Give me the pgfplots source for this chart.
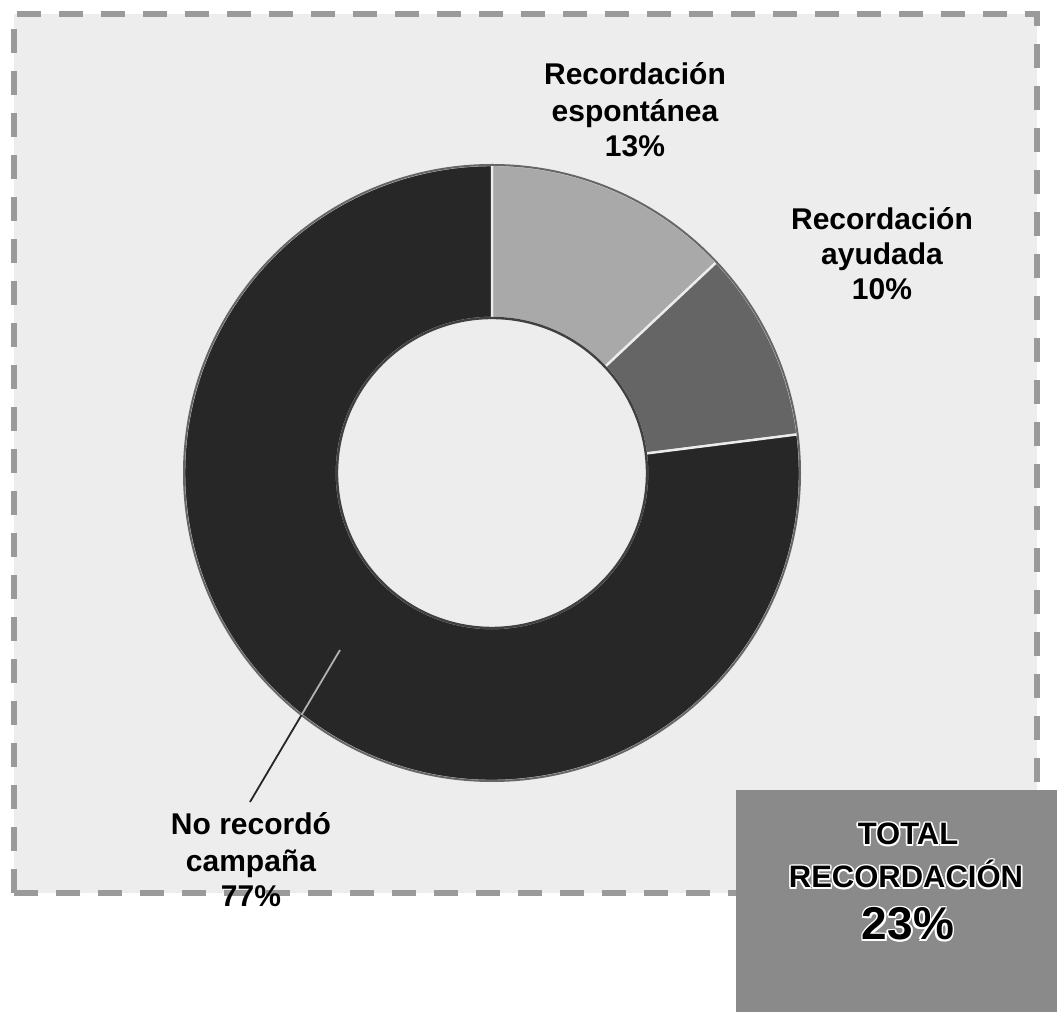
\documentclass[border=0pt]{standalone}
\usepackage{pgfplots}
\pgfplotsset{compat=1.18}
\usepackage{pgfplotstable}
\usepackage{fontspec}
\setmainfont{Liberation Sans}
\definecolor{bgc}{HTML}{EDEDED}
\definecolor{sliceA}{HTML}{A9A9A9}
\definecolor{sliceB}{HTML}{656565}
\definecolor{sliceC}{HTML}{272727}
\definecolor{boxc}{HTML}{8A8A8A}
\definecolor{dashc}{HTML}{9A9A9A}

\pgfplotstableread{
label value
Espontanea 13
Ayudada 10
NoRecordo 77
}\donutdata

\newcommand\halo[4]{%
  \node[white,font=#3] at ([shift={(0.8pt,0pt)}]axis cs:#1,#2) {#4};
  \node[white,font=#3] at ([shift={(-0.8pt,0pt)}]axis cs:#1,#2) {#4};
  \node[white,font=#3] at ([shift={(0pt,0.8pt)}]axis cs:#1,#2) {#4};
  \node[white,font=#3] at ([shift={(0pt,-0.8pt)}]axis cs:#1,#2) {#4};
  \node[white,font=#3] at ([shift={(0.6pt,0.6pt)}]axis cs:#1,#2) {#4};
  \node[white,font=#3] at ([shift={(-0.6pt,0.6pt)}]axis cs:#1,#2) {#4};
  \node[white,font=#3] at ([shift={(0.6pt,-0.6pt)}]axis cs:#1,#2) {#4};
  \node[white,font=#3] at ([shift={(-0.6pt,-0.6pt)}]axis cs:#1,#2) {#4};
  \node[black,font=#3] at (axis cs:#1,#2) {#4};
}

\begin{document}
\begin{tikzpicture}
\pgfplotstablegetelem{0}{value}\of\donutdata \pgfmathsetmacro\va{\pgfplotsretval}
\pgfplotstablegetelem{1}{value}\of\donutdata \pgfmathsetmacro\vb{\pgfplotsretval}
\pgfplotstablegetelem{2}{value}\of\donutdata \pgfmathsetmacro\vc{\pgfplotsretval}
\pgfmathsetmacro\aA{90}
\pgfmathsetmacro\aB{\aA-3.6*\va}
\pgfmathsetmacro\aC{\aB-3.6*\vb}
\pgfmathsetmacro\aD{\aC-3.6*\vc}
\def\Ro{154pt}
\def\Ri{77.5pt}
\begin{axis}[
  x=0.5pt, y=0.5pt,
  xmin=0, xmax=1057, ymin=0, ymax=1012,
  hide axis, clip=false,
  scale only axis,
]
% background
\fill[white] (axis cs:0,0) rectangle (axis cs:1057,1012);
\fill[bgc] (axis cs:14,119) rectangle (axis cs:1037,998);
\draw[dashc, line width=3pt, dash pattern=on 12pt off 9pt] (axis cs:14,119) rectangle (axis cs:1037,998);
% slices
\filldraw[fill=sliceA, draw=white!85!gray, line width=1.2pt]
  ([shift={(\aA:\Ro)}]axis cs:492,539) arc[start angle=\aA, end angle=\aB, radius=\Ro]
  -- ([shift={(\aB:\Ri)}]axis cs:492,539) arc[start angle=\aB, end angle=\aA, radius=\Ri] -- cycle;
\filldraw[fill=sliceB, draw=white!85!gray, line width=1.2pt]
  ([shift={(\aB:\Ro)}]axis cs:492,539) arc[start angle=\aB, end angle=\aC, radius=\Ro]
  -- ([shift={(\aC:\Ri)}]axis cs:492,539) arc[start angle=\aC, end angle=\aB, radius=\Ri] -- cycle;
\filldraw[fill=sliceC, draw=white!85!gray, line width=1.2pt]
  ([shift={(\aC:\Ro)}]axis cs:492,539) arc[start angle=\aC, end angle=\aD, radius=\Ro]
  -- ([shift={(\aD:\Ri)}]axis cs:492,539) arc[start angle=\aD, end angle=\aC, radius=\Ri] -- cycle;
\draw[black!75, line width=1.2pt] (axis cs:492,539) circle[radius=\Ri];
\draw[black!60, line width=1.0pt] (axis cs:492,539) circle[radius=\Ro];
% leader
\draw[black!85, line width=0.9pt] (axis cs:250,210) -- (axis cs:301.5,297);
\draw[gray!60, line width=0.9pt] (axis cs:301.5,297) -- (axis cs:340,362);
% labels
\begin{scope}[every node/.style={font=\bfseries\fontsize{15}{18}\selectfont, anchor=base, inner sep=0pt}]
\node at (axis cs:635,927) {Recordación};
\node at (axis cs:635,890) {espontánea};
\node at (axis cs:635,855) {13\%};
\node at (axis cs:882,782) {Recordación};
\node at (axis cs:882,747) {ayudada};
\node at (axis cs:882,712) {10\%};
\node at (axis cs:251,177) {No recordó};
\node at (axis cs:251,140) {campaña};
\node at (axis cs:251,105) {77\%};
\end{scope}
% total box
\fill[boxc] (axis cs:736,0) rectangle (axis cs:1057,222);
\begin{scope}[every node/.style={anchor=base, inner sep=0pt}]
\halo{908}{167}{\bfseries\fontsize{15.5}{18}\selectfont}{TOTAL}
\halo{906}{124}{\bfseries\fontsize{15.5}{18}\selectfont}{RECORDACIÓN}
\halo{908}{72}{\bfseries\fontsize{23}{26}\selectfont}{23\%}
\end{scope}
\end{axis}
\end{tikzpicture}
\end{document}
